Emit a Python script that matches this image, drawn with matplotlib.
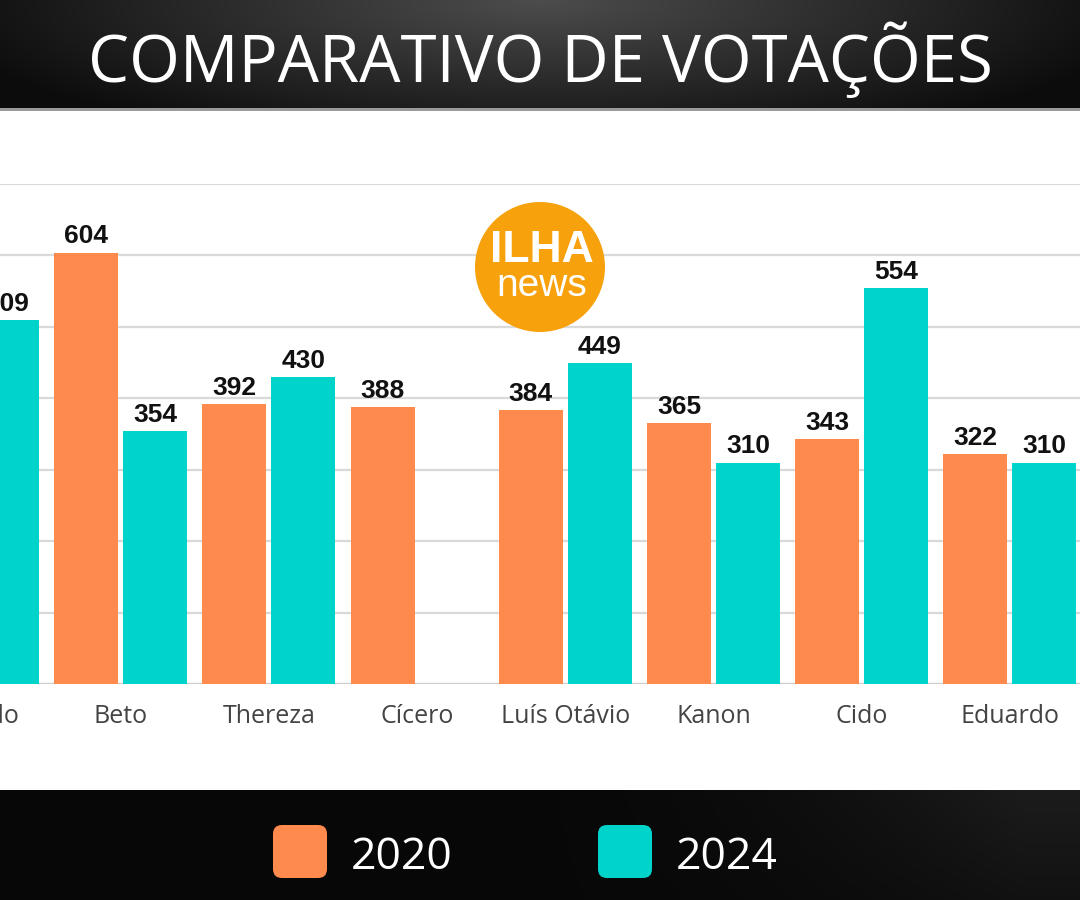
import numpy as np
import matplotlib
matplotlib.use("Agg")
import matplotlib.pyplot as plt
from matplotlib.patches import Circle, FancyBboxPatch

# ---------------------------------------------------------------- data
categories = ["Geraldo", "Beto", "Thereza", "Cícero", "Luís Otávio",
              "Kanon", "Cido", "Eduardo"]
votes_2020 = [np.nan, 604, 392, 388, 384, 365, 343, 322]
votes_2024 = [509, 354, 430, np.nan, 449, 310, 554, 310]
years = ["2020", "2024"]
yticks = [0, 100, 200, 300, 400, 500, 600, 700]

ORANGE = "#fe8a4e"
TEAL = "#00d3ca"
LOGO = "#f7a20c"
FONT = ["Open Sans", "DejaVu Sans"]

W, H = 1080, 900
fig = plt.figure(figsize=(W / 100, H / 100), dpi=100)

# ---------------------------------------------------------------- background
bg = fig.add_axes([0, 0, 1, 1], zorder=0)
bg.set_xlim(0, W)
bg.set_ylim(H, 0)
bg.axis("off")
xx, yy = np.meshgrid(np.linspace(-1, 1, 400), np.linspace(0, 1, 60))
top = 0.30 - 0.22 * np.sqrt(xx ** 2 + (yy * 0.8) ** 2)
top = np.clip(top, 0.05, 1)
bg.imshow(np.dstack([top] * 3), extent=(0, W, 108, 0), aspect="auto",
          interpolation="bicubic")
bg.add_patch(plt.Rectangle((0, 108), W, 3, color="#9a9a9a", lw=0))
bg.add_patch(plt.Rectangle((0, 111), W, 679, color="white", lw=0))
bot = 0.03 + 0.08 * np.clip(xx + 0.1, 0, 1) ** 2 * (1 - yy * 0.5)
bg.imshow(np.dstack([bot] * 3), extent=(0, W, 900, 790), aspect="auto",
          interpolation="bicubic")

bg.text(540, 60, "COMPARATIVO DE VOTAÇÕES", color="white", fontsize=47,
        family=FONT, ha="center", va="center", fontweight="medium")

for i, (yr, col) in enumerate(zip(years, [ORANGE, TEAL])):
    x0 = 273 + i * 325
    bg.add_patch(FancyBboxPatch((x0 + 8, 833), 38, 37,
                                boxstyle="round,pad=8,rounding_size=9",
                                fc=col, ec="none"))
    bg.text(x0 + 78, 858, yr, color="white", fontsize=32, family=FONT,
            ha="left", va="center")

# ---------------------------------------------------------------- bars
# axes reach past the left edge so the first (cropped) group keeps its label
LEFT = -160
ax = fig.add_axes([LEFT / W, (H - 684) / H, (W - LEFT) / W, 500 / H],
                  zorder=1)
ax.set_facecolor("none")
x = np.arange(len(categories))
bw = 0.432
off = 0.233
b1 = ax.bar(x - off, votes_2020, bw, color=ORANGE, zorder=2)
b2 = ax.bar(x + off, votes_2024, bw, color=TEAL, zorder=2)
for bars, vals in ((b1, votes_2020), (b2, votes_2024)):
    for r, v in zip(bars, vals):
        if np.isnan(v):
            continue
        ax.annotate(f"{v:.0f}", (r.get_x() + r.get_width() / 2, v),
                    xytext=(0, 3), textcoords="offset points", ha="center",
                    va="bottom", fontsize=19, fontweight="bold",
                    family=["Liberation Sans", "DejaVu Sans"], color="#111")

ax.set_xticks(x)
ax.set_xticklabels(categories, fontsize=18, family=FONT, color="#444")
ax.set_xlim((LEFT + 27.5) / 148.2, (W + 27.5) / 148.2)
ax.set_ylim(0, 700)
ax.set_yticks(yticks)
ax.yaxis.grid(True, color="#d9d9d9", lw=1.6, zorder=0)
ax.set_axisbelow(True)
ax.tick_params(left=False, labelleft=False, bottom=False, pad=11)
for s in ax.spines.values():
    s.set_visible(False)
ax.axhline(0, color="#cfcfcf", lw=1.6, zorder=1)

# ---------------------------------------------------------------- logo
ov = fig.add_axes([0, 0, 1, 1], zorder=3)
ov.set_xlim(0, W)
ov.set_ylim(H, 0)
ov.axis("off")
ov.add_patch(Circle((540, 267), 65, color=LOGO, lw=0))
ov.text(542, 251, "ILHA", color="white", fontsize=32, fontweight="bold",
        family=["Liberation Sans"], ha="center", va="center")
ov.text(542, 286, "news", color="white", fontsize=28,
        family=["Liberation Sans"], ha="center", va="center")

fig.savefig("out.png", dpi=100)
